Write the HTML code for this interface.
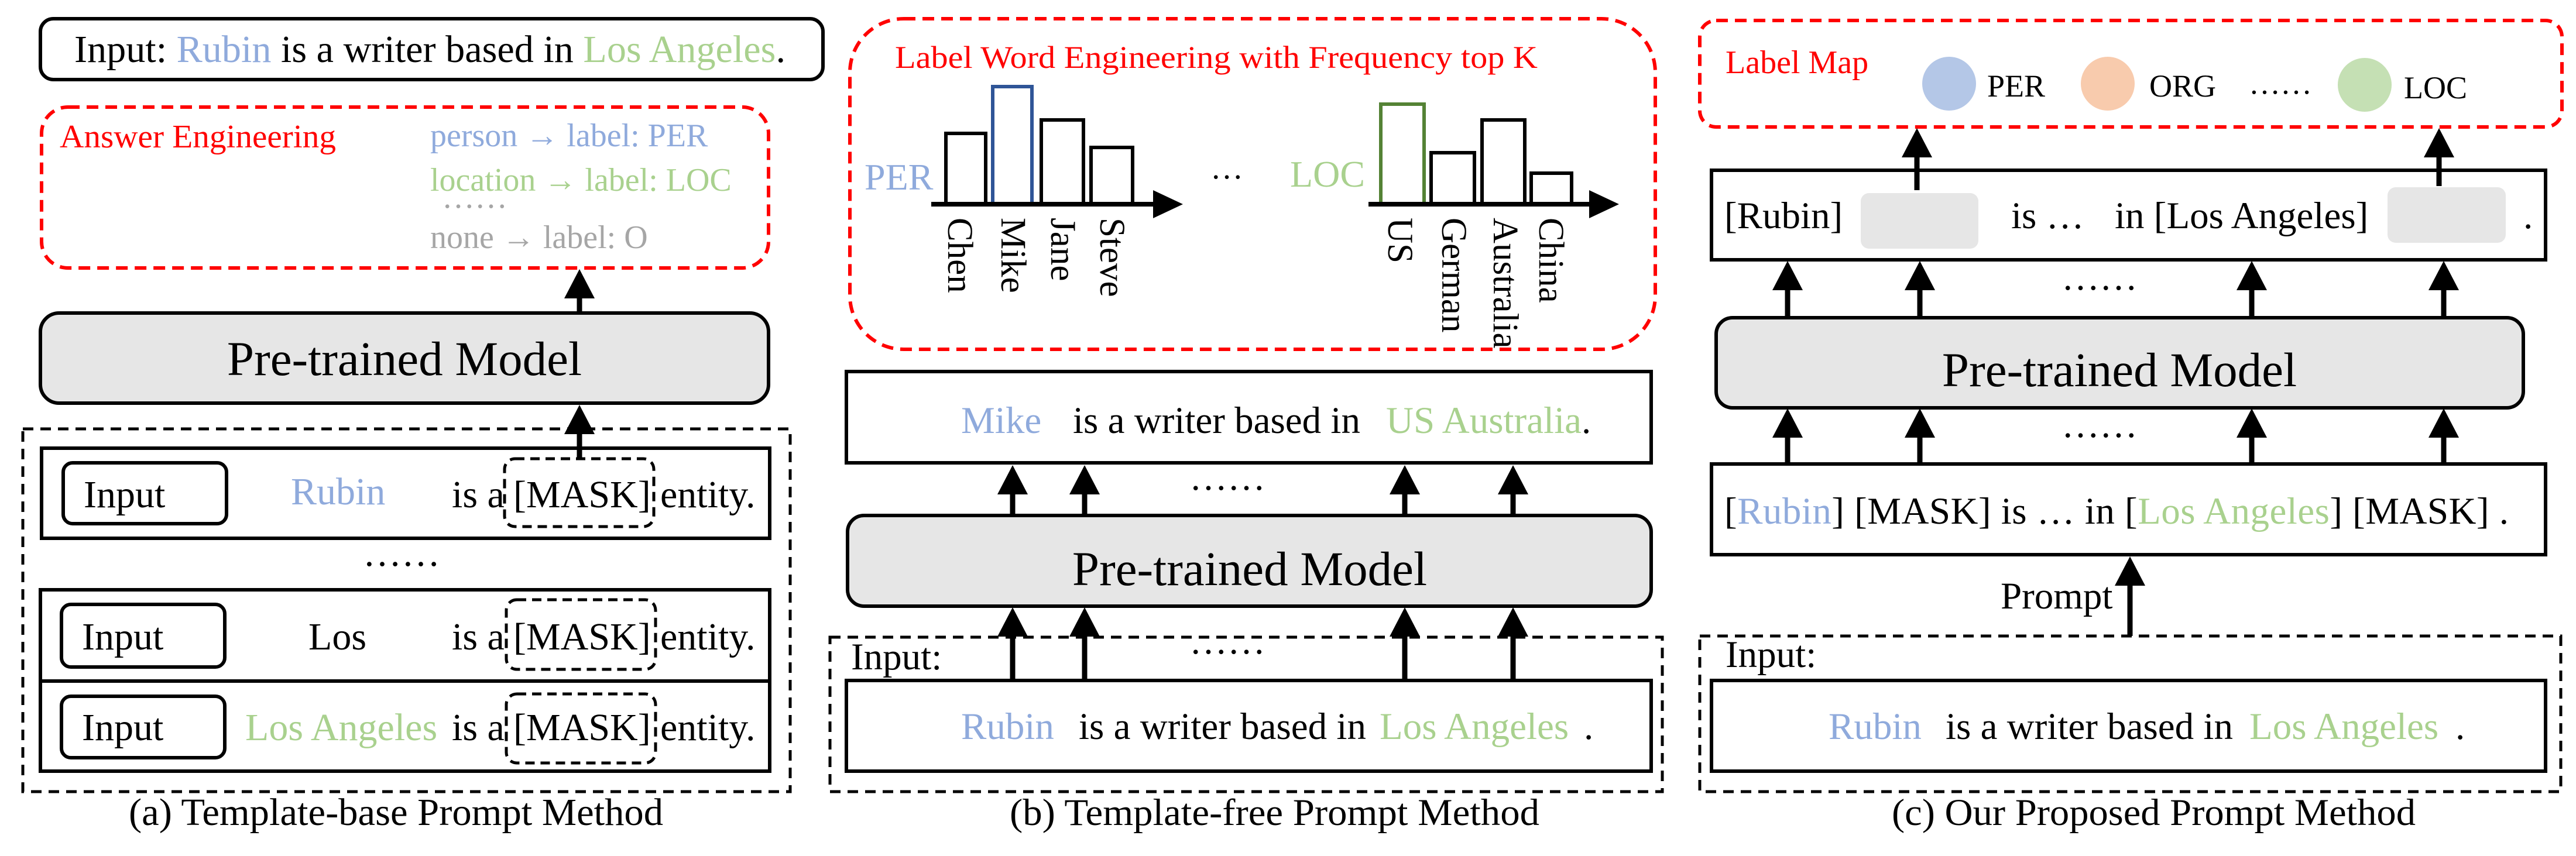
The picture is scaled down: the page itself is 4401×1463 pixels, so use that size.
<!DOCTYPE html>
<html><head><meta charset="utf-8"><style>html,body{margin:0;padding:0;background:#fff}svg{display:block}text{font-family:"Liberation Serif",serif}</style></head><body>
<svg width="4401" height="1463" viewBox="0 0 4401 1463" xmlns="http://www.w3.org/2000/svg">
<defs>
<g id="ah"><polygon points="0,0 -26,50 26,50" fill="#000"/></g>
</defs>
<g fill="none" stroke="#000" stroke-width="6">
<rect x="69" y="32" width="1337" height="104" rx="22"/>
<rect x="71" y="183" width="1242" height="275" rx="45" stroke="#ff0000" stroke-dasharray="20 12"/>
<rect x="69" y="535" width="1244" height="154" rx="32" fill="#e6e6e6"/>
<rect x="39" y="733" width="1311" height="620" stroke-dasharray="18 12" stroke-width="5"/>
<rect x="71" y="766" width="1244" height="154"/>
<rect x="69" y="1008" width="1246" height="310"/>
<line x1="69" y1="1164" x2="1315" y2="1164"/>
<rect x="108" y="791" width="279" height="104" rx="16"/>
<rect x="105" y="1033" width="279" height="107" rx="16"/>
<rect x="105" y="1190" width="279" height="105" rx="16"/>
<rect x="862" y="784" width="255" height="116" rx="18" stroke-dasharray="16 10" stroke-width="5"/>
<rect x="865" y="1025" width="255" height="119" rx="18" stroke-dasharray="16 10" stroke-width="5"/>
<rect x="865" y="1186" width="255" height="118" rx="18" stroke-dasharray="16 10" stroke-width="5"/>
<line x1="990" y1="535" x2="990" y2="500" stroke-width="9"/>
<line x1="990" y1="782" x2="990" y2="735" stroke-width="9"/>
<rect x="1452" y="32" width="1376" height="565" rx="92" stroke="#ff0000" stroke-dasharray="20 12"/>
<rect x="1446" y="635" width="1375" height="156"/>
<rect x="1448" y="881" width="1373" height="155" rx="28" fill="#e6e6e6"/>
<rect x="1418" y="1089" width="1422" height="264" stroke-dasharray="18 12" stroke-width="5"/>
<rect x="1446" y="1163" width="1375" height="155"/>
<rect x="1616" y="228" width="68" height="121"/>
<rect x="1696" y="148" width="67" height="201" stroke="#2f5597"/>
<rect x="1779" y="205" width="72" height="144"/>
<rect x="1864" y="252" width="71" height="97"/>
<rect x="2359" y="178" width="74" height="171" stroke="#548235"/>
<rect x="2445" y="261" width="74" height="88"/>
<rect x="2532" y="205" width="73" height="144"/>
<rect x="2616" y="296" width="69" height="53"/>
<line x1="1591" y1="349" x2="1975" y2="349" stroke-width="8"/>
<line x1="2338" y1="349" x2="2720" y2="349" stroke-width="8"/>
<rect x="2904" y="35" width="1473" height="182" rx="28" stroke="#ff0000" stroke-dasharray="20 12"/>
<rect x="2924" y="291" width="1425" height="153"/>
<rect x="2932" y="543" width="1379" height="154" rx="28" fill="#e6e6e6"/>
<rect x="2924" y="793" width="1425" height="155"/>
<rect x="2904" y="1087" width="1471" height="266" stroke-dasharray="18 12" stroke-width="5"/>
<rect x="2924" y="1163" width="1425" height="155"/>
</g>
<g stroke="none">
<rect x="3179" y="330" width="201" height="95" rx="14" fill="#e6e6e6"/>
<rect x="4079" y="320" width="202" height="95" rx="14" fill="#e6e6e6"/>
<circle cx="3330" cy="143" r="46" fill="#b4c7e7"/>
<circle cx="3601" cy="143" r="46" fill="#f8cbad"/>
<circle cx="4040" cy="145" r="46" fill="#c5e0b4"/>
<polygon points="2021,349 1970,325 1970,373" fill="#000"/>
<polygon points="2766,349 2715,325 2715,373" fill="#000"/>
</g>
<use href="#ah" x="990" y="460"/>
<use href="#ah" x="990" y="692"/>
<g stroke="#000" stroke-width="9">
<line x1="1730" y1="881" x2="1730" y2="840"/><line x1="1853" y1="881" x2="1853" y2="840"/><line x1="2400" y1="881" x2="2400" y2="840"/><line x1="2585" y1="881" x2="2585" y2="840"/>
<line x1="1730" y1="1163" x2="1730" y2="1080"/><line x1="1853" y1="1163" x2="1853" y2="1080"/><line x1="2400" y1="1163" x2="2400" y2="1080"/><line x1="2585" y1="1163" x2="2585" y2="1080"/>
<line x1="3275" y1="325" x2="3275" y2="260"/><line x1="4167" y1="318" x2="4167" y2="260"/>
<line x1="3054" y1="543" x2="3054" y2="490"/><line x1="3280" y1="543" x2="3280" y2="490"/><line x1="3847" y1="543" x2="3847" y2="490"/><line x1="4175" y1="543" x2="4175" y2="490"/>
<line x1="3054" y1="793" x2="3054" y2="740"/><line x1="3280" y1="793" x2="3280" y2="740"/><line x1="3847" y1="793" x2="3847" y2="740"/><line x1="4175" y1="793" x2="4175" y2="740"/>
<line x1="3639" y1="1087" x2="3639" y2="990"/>
</g>
<use href="#ah" x="1730" y="795"/><use href="#ah" x="1853" y="795"/><use href="#ah" x="2400" y="795"/><use href="#ah" x="2585" y="795"/>
<use href="#ah" x="1730" y="1038"/><use href="#ah" x="1853" y="1038"/><use href="#ah" x="2400" y="1038"/><use href="#ah" x="2585" y="1038"/>
<use href="#ah" x="3275" y="219"/><use href="#ah" x="4167" y="219"/>
<use href="#ah" x="3054" y="446"/><use href="#ah" x="3280" y="446"/><use href="#ah" x="3847" y="446"/><use href="#ah" x="4175" y="446"/>
<use href="#ah" x="3054" y="698"/><use href="#ah" x="3280" y="698"/><use href="#ah" x="3847" y="698"/><use href="#ah" x="4175" y="698"/>
<use href="#ah" x="3639" y="951"/>

<g font-size="66" fill="#000">
<text x="127" y="106" textLength="1215" lengthAdjust="spacingAndGlyphs">Input: <tspan fill="#8faadc">Rubin</tspan> is a writer based in <tspan fill="#a9d18e">Los Angeles</tspan>.</text>
<text x="143" y="867">Input</text><text x="497" y="862" fill="#8faadc">Rubin</text><text x="772" y="867">is a</text><text x="877" y="867">[MASK]</text><text x="1128" y="867">entity.</text>
<text x="140" y="1110">Input</text><text x="527" y="1110">Los</text><text x="772" y="1110">is a</text><text x="877" y="1110">[MASK]</text><text x="1128" y="1110">entity.</text>
<text x="140" y="1265">Input</text><text x="419" y="1265" fill="#a9d18e">Los Angeles</text><text x="772" y="1265">is a</text><text x="877" y="1265">[MASK]</text><text x="1128" y="1265">entity.</text>
<text x="620" y="967">……</text>
<text x="220" y="1410" textLength="913" lengthAdjust="spacingAndGlyphs">(a) Template-base Prompt Method</text>
</g>
<text x="691" y="641" font-size="83" text-anchor="middle">Pre-trained Model</text>
<g font-size="56">
<text x="102" y="252" fill="#ff0000" textLength="472" lengthAdjust="spacingAndGlyphs">Answer Engineering</text>
<text x="735" y="250" fill="#8faadc">person  →  label: PER</text>
<text x="735" y="326" fill="#a9d18e">location →  label: LOC</text>
<text x="755" y="355" fill="#a6a6a6">……</text>
<text x="735" y="424" fill="#a6a6a6">none  →  label: O</text>
</g>

<text x="1529" y="116" font-size="54" fill="#ff0000" textLength="1098" lengthAdjust="spacingAndGlyphs">Label Word Engineering with Frequency top K</text>
<text x="1477" y="324" font-size="64" fill="#8faadc">PER</text>
<text x="2204" y="319" font-size="64" fill="#a9d18e">LOC</text>
<text x="2068" y="305" font-size="56">…</text>
<g font-size="61">
<text transform="translate(1620,372) rotate(90)">Chen</text>
<text transform="translate(1711,372) rotate(90)">Mike</text>
<text transform="translate(1796,372) rotate(90)">Jane</text>
<text transform="translate(1880,372) rotate(90)">Steve</text>
<text transform="translate(2372,372) rotate(90)">US</text>
<text transform="translate(2464,372) rotate(90)">German</text>
<text transform="translate(2552,372) rotate(90)">Australia</text>
<text transform="translate(2630,372) rotate(90)">China</text>
</g>
<g font-size="65">
<text x="1642" y="740"><tspan fill="#8faadc">Mike</tspan><tspan x="1833">is a writer based in</tspan><tspan x="2368" fill="#a9d18e">US Australia</tspan>.</text>
<text x="1454" y="1144">Input:</text>
<text x="1642" y="1263"><tspan fill="#8faadc">Rubin</tspan><tspan x="1843">is a writer based in</tspan><tspan x="2357" fill="#a9d18e">Los Angeles</tspan><tspan x="2706">.</tspan></text>
<text x="2032" y="837">……</text>
<text x="2032" y="1117">……</text>
<text x="1725" y="1410" textLength="905" lengthAdjust="spacingAndGlyphs">(b) Template-free Prompt Method</text>
</g>
<text x="2135" y="1000" font-size="83" text-anchor="middle">Pre-trained Model</text>

<text x="2948" y="125" font-size="56" fill="#ff0000">Label Map</text>
<g font-size="54">
<text x="3395" y="165">PER</text><text x="3672" y="165">ORG</text><text x="3842" y="160">……</text><text x="4107" y="168">LOC</text>
</g>
<g font-size="65">
<text x="2946" y="390">[Rubin]</text><text x="3436" y="390">is …</text><text x="3613" y="390">in [Los Angeles]</text><text x="4311" y="390">.</text>
<text x="3522" y="495">……</text>
<text x="3522" y="747">……</text>
<text x="2946" y="895" textLength="1340" lengthAdjust="spacing">[<tspan fill="#8faadc">Rubin</tspan>] [MASK]  is …  in [<tspan fill="#a9d18e">Los Angeles</tspan>] [MASK] .</text>
<text x="3418" y="1040">Prompt</text>
<text x="2948" y="1140">Input:</text>
<text x="3124" y="1263"><tspan fill="#8faadc">Rubin</tspan><tspan x="3324">is a writer based in</tspan><tspan x="3843" fill="#a9d18e">Los Angeles</tspan><tspan x="4195">.</tspan></text>
<text x="3232" y="1410" textLength="895" lengthAdjust="spacingAndGlyphs">(c) Our Proposed Prompt Method</text>
</g>
<text x="3621" y="660" font-size="83" text-anchor="middle">Pre-trained Model</text>
</svg>
</body></html>
